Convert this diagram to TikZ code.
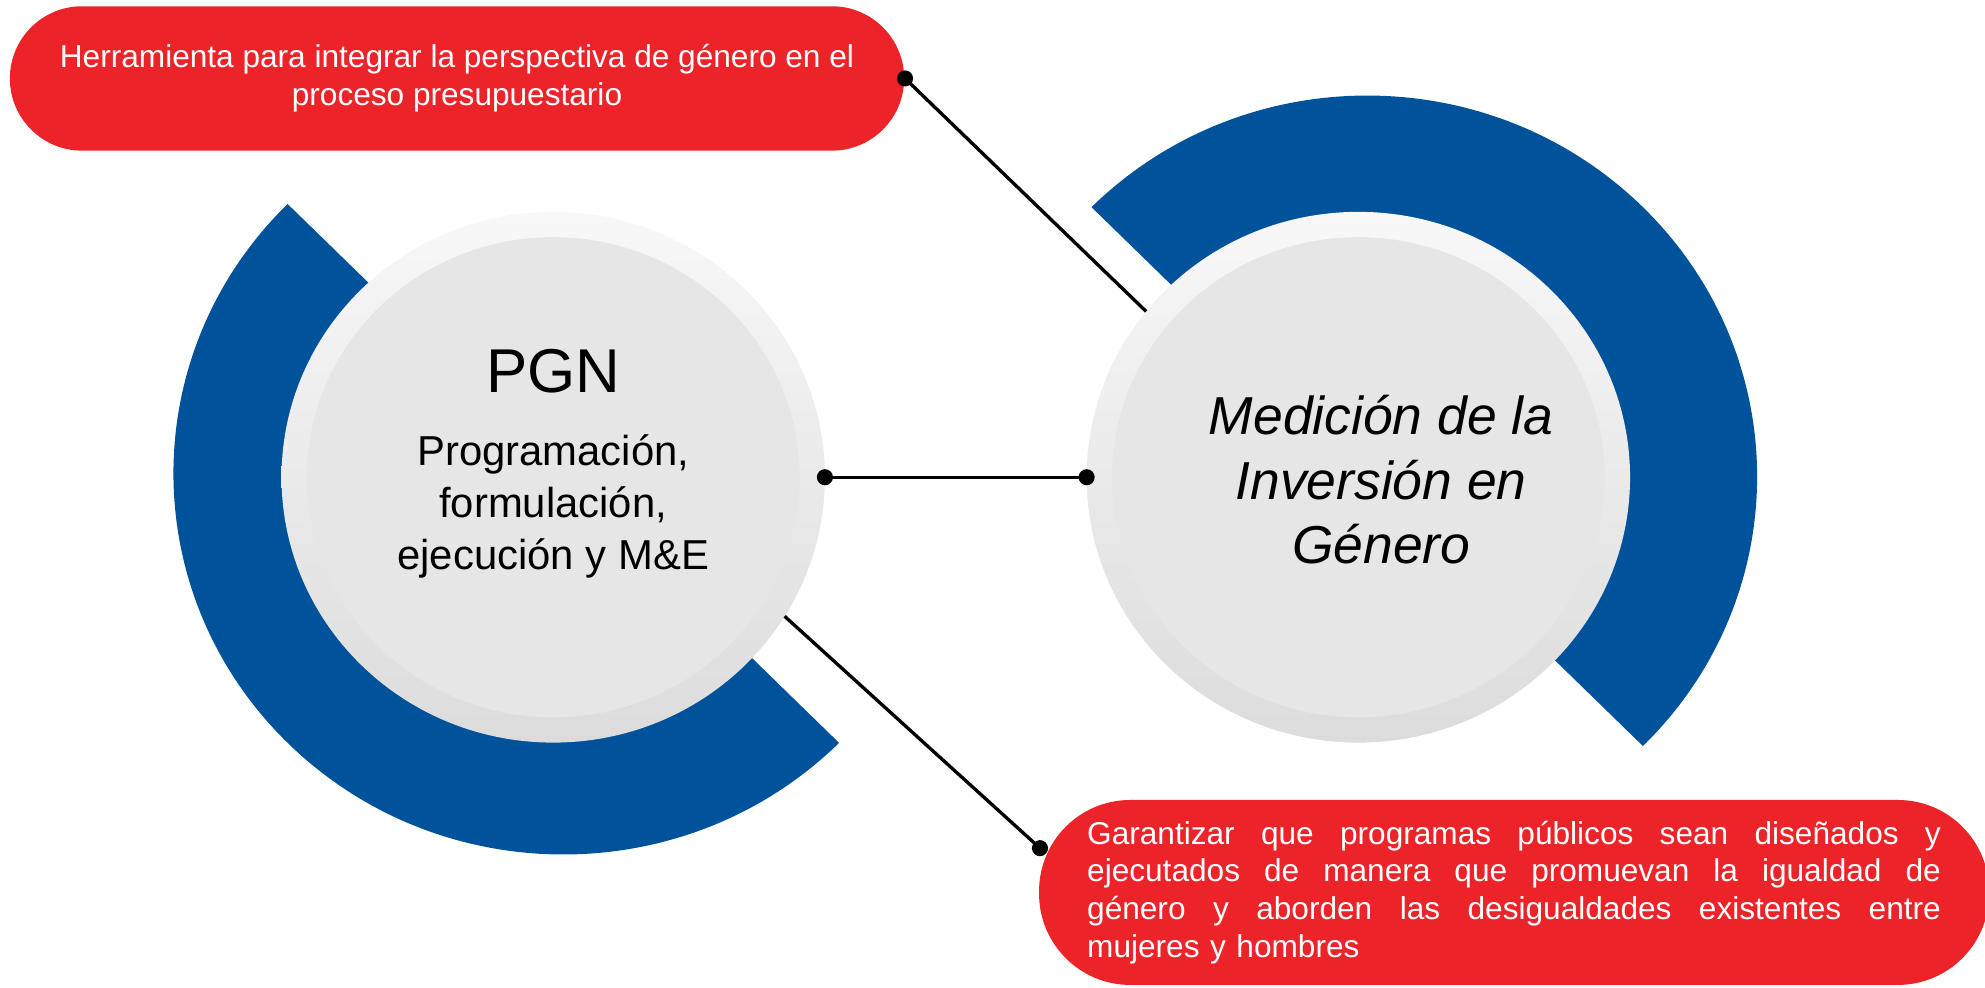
\documentclass[tikz,border=0pt]{standalone}
\usepackage{fontspec}
\setmainfont{Liberation Sans}
\usetikzlibrary{positioning, shapes.geometric, arrows.meta}

\definecolor{pgnblue}{HTML}{00529B}
\definecolor{pgnred}{HTML}{EC2328}
\definecolor{ringtop}{HTML}{F8F8F8}
\definecolor{ringmid}{HTML}{B9B9B9}
\definecolor{ringbot}{HTML}{DCDCDC}
\definecolor{coregray}{HTML}{E6E6E6}

\newcommand{\fillline}[1]{\leavevmode\hbox to 6.74cm{#1}}

\begin{document}
\begin{tikzpicture}[
    x=0.01cm, y=0.01cm,
    ring/.style = {ellipse, draw=none, inner sep=0pt, outer sep=0pt,
      minimum width=4.29cm, minimum height=4.19cm,
      top color=ringtop, middle color=ringmid, bottom color=ringbot},
    core/.style = {ellipse, fill=coregray, inner sep=0pt, outer sep=0pt,
      minimum width=3.89cm, minimum height=3.79cm},
    bubble/.style = {rectangle, fill=pgnred, text=white, rounded corners=#1,
      font=\fontsize{7.1}{8.5}\selectfont},
    bubble/.default=0.57cm,
    link/.style = {line width=0.75pt},
    knob/.tip = {Circle[length=3.6pt]},
  ]
  \useasboundingbox (0,0) rectangle (1568,780);

  % blue half rings
  \fill[pgnblue] (445,406) ++(135:308 and 301)
    arc[start angle=135, end angle=315, x radius=308, y radius=301]
    -- ++(135:118 and 115)
    arc[start angle=315, end angle=135, x radius=190, y radius=186] -- cycle;
  \fill[pgnblue] (1080,403.5) ++(-45:308 and 301)
    arc[start angle=-45, end angle=135, x radius=308, y radius=301]
    -- ++(-45:118 and 115)
    arc[start angle=135, end angle=-45, x radius=190, y radius=186] -- cycle;

  % circles
  \node[ring] (PGN) at (437,403) {};
  \node[core] (PGNcore) at (PGN.center) {};
  \node[ring] (MIG) at (1073,403) {};
  \node[core] (MIGcore) at (MIG.center) {};

  \node[font=\fontsize{13.9}{16}\selectfont] (PGNtitle) at (437,487) {PGN};
  \node[font=\fontsize{9.4}{11.7}\selectfont, align=center] (PGNsub) at (437,380)
    {Programación,\\formulación,\\ejecución y M\&E};
  \node[font=\fontsize{12}{14.5}\selectfont\itshape, align=center] (MIGtext) at (1091,401)
    {Medición de la\\Inversión en\\Género};

  % text boxes
  \node[bubble, minimum width=7.06cm, minimum height=1.14cm, align=center] (tool) at (361,718)
    {Herramienta para integrar la perspectiva de género en el\\proceso presupuestario};
  \node[bubble=0.72cm, minimum width=7.5cm, minimum height=1.46cm,
    text width=6.74cm, align=left] (goal) at (1196,75)
    {\fillline{Garantizar\hfill que\hfill programas\hfill públicos\hfill sean\hfill diseñados\hfill y}\\
     \fillline{ejecutados\hfill de\hfill manera\hfill que\hfill promuevan\hfill la\hfill igualdad\hfill de}\\
     \fillline{género\hfill y\hfill aborden\hfill las\hfill desigualdades\hfill existentes\hfill entre}\\
     mujeres y hombres};
  \coordinate (goaldot) at (821.5,110);

  % connectors
  \draw[link, {knob}-{knob}, shorten <=-1.8pt, shorten >=-1.8pt] (PGN.east) -- (MIG.west);
  \draw[link, {knob}-, shorten <=-1.8pt] (tool.east) -- (MIG.142);
  \draw[link, -{knob}, shorten >=-1.8pt] (PGN.-31) -- (goaldot);

\end{tikzpicture}
\end{document}
